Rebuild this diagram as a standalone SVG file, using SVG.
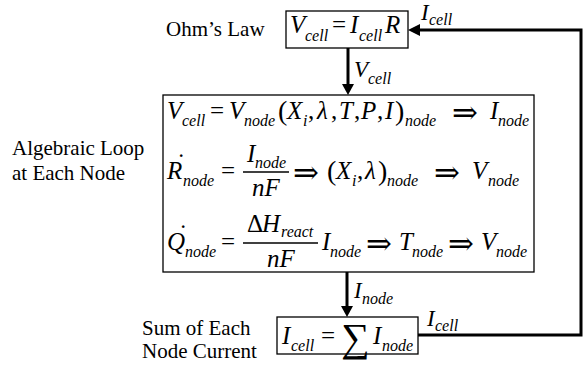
<svg xmlns="http://www.w3.org/2000/svg" width="586" height="367" viewBox="0 0 586 367">
<style>
.t{font-family:"Liberation Serif","DejaVu Serif",serif;font-size:21px;fill:#000}
.m{font-family:"Liberation Serif","DejaVu Serif",serif;font-style:italic;font-size:25px;fill:#000}
.u{font-family:"Liberation Serif","DejaVu Serif",serif;font-style:normal;font-size:25px;fill:#000}
.p{font-family:"Liberation Serif","DejaVu Serif",serif;font-style:normal;font-size:28px;fill:#000}
.s{font-family:"Liberation Serif","DejaVu Serif",serif;font-style:italic;font-size:16px;fill:#000}
.ls{font-family:"Liberation Serif","DejaVu Serif",serif;font-style:italic;font-size:23px;fill:#000}
.lss{font-family:"Liberation Serif","DejaVu Serif",serif;font-style:italic;font-size:16px;fill:#000}
.ar{font-family:"DejaVu Serif",serif;font-size:31px;fill:#000}
.box{fill:#fff;stroke:#000;stroke-width:1.3}
.wire{fill:none;stroke:#000;stroke-width:3}
.bar{stroke:#000;stroke-width:1.3}
</style>

<g id="labels">
<text class="t" x="166" y="36">Ohm’s Law</text>
<text class="t" x="12" y="155">Algebraic Loop</text>
<text class="t" x="12" y="180">at Each Node</text>
<text class="t" x="142" y="335">Sum of Each</text>
<text class="t" x="142" y="358">Node Current</text>
</g>

<g id="connectors">
<line class="wire" x1="348" y1="48" x2="348" y2="86"/>
<polygon points="342,84 354,84 348,95"/>
<line class="wire" x1="347" y1="272" x2="347" y2="308"/>
<polygon points="341,306 353,306 347,317"/>
<polyline class="wire" points="418,335 581,335 581,30 418,30"/>
<polygon points="420,24 420,36 408,30"/>
<text class="ls" x="354" y="77">V</text><text class="lss" x="368" y="84">cell</text>
<text class="ls" x="354" y="298">I</text><text class="lss" x="362" y="304">node</text>
<text class="ls" x="421" y="20">I</text><text class="lss" x="429" y="25">cell</text>
<text class="ls" x="427" y="326">I</text><text class="lss" x="435" y="331">cell</text>
</g>

<g id="ohms-law">
<rect class="box" x="286" y="11" width="122" height="37"/>
<text class="m" x="290" y="33">V</text><text class="s" x="305" y="41">cell</text>
<text class="u" x="332" y="33">=</text>
<text class="m" x="350" y="33">I</text><text class="s" x="359" y="41">cell</text>
<text class="m" x="385" y="33">R</text>
</g>

<g id="algebraic-loop">
<rect class="box" x="163" y="95" width="371" height="177"/>
<!-- line 1 -->
<text class="m" x="167" y="119">V</text><text class="s" x="182" y="126">cell</text>
<text class="u" x="210" y="119">=</text>
<text class="m" x="229" y="119">V</text><text class="s" x="244" y="126">node</text>
<text class="p" x="278" y="120">(</text>
<text class="m" x="287" y="119">X</text><text class="s" x="303" y="126">i</text>
<text class="u" x="308" y="119">,</text>
<text class="m" x="317" y="119">λ</text>
<text class="u" x="331" y="119">,</text>
<text class="m" x="339" y="119">T</text>
<text class="u" x="354" y="119">,</text>
<text class="m" x="361" y="119">P</text>
<text class="u" x="377" y="119">,</text>
<text class="m" x="385" y="119">I</text>
<text class="p" x="395" y="120">)</text>
<text class="s" x="405" y="126">node</text>
<text class="ar" x="452" y="123">⇒</text>
<text class="m" x="490" y="119">I</text><text class="s" x="498" y="126">node</text>
<!-- line 2 -->
<text class="m" x="167" y="179">R<tspan class="u" x="177" y="171">˙</tspan><tspan class="s" x="183" y="186">node</tspan></text>
<text class="u" x="221" y="179">=</text>
<line class="bar" x1="243" y1="172" x2="289" y2="172"/>
<text class="m" x="247" y="162">I</text><text class="s" x="255" y="168">node</text>
<text class="m" x="252" y="196">nF</text>
<text class="ar" x="293" y="183">⇒</text>
<text class="p" x="327" y="180">(</text>
<text class="m" x="336" y="179">X</text><text class="s" x="352" y="186">i</text>
<text class="u" x="357" y="179">,</text>
<text class="m" x="365" y="179">λ</text>
<text class="p" x="378" y="180">)</text>
<text class="s" x="387" y="186">node</text>
<text class="ar" x="434" y="183">⇒</text>
<text class="m" x="472" y="179">V</text><text class="s" x="488" y="186">node</text>
<!-- line 3 -->
<text class="m" x="167" y="250">Q<tspan class="u" x="179" y="242">˙</tspan><tspan class="s" x="185" y="257">node</tspan></text>
<text class="u" x="221" y="250">=</text>
<line class="bar" x1="243" y1="243" x2="318" y2="243"/>
<text class="u" x="247" y="232">Δ</text><text class="m" x="262" y="232">H</text><text class="s" x="281" y="237">react</text>
<text class="m" x="267" y="267">nF</text>
<text class="m" x="322" y="250">I</text><text class="s" x="330" y="257">node</text>
<text class="ar" x="366" y="254">⇒</text>
<text class="m" x="399" y="250">T</text><text class="s" x="412" y="257">node</text>
<text class="ar" x="448" y="254">⇒</text>
<text class="m" x="481" y="250">V</text><text class="s" x="496" y="257">node</text>
</g>

<g id="node-sum">
<rect class="box" x="277" y="317" width="141" height="37"/>
<text class="m" x="282" y="344">I</text><text class="s" x="291" y="351">cell</text>
<text class="u" x="321" y="344">=</text>
<text class="u" x="341" y="351" style="font-size:40px">∑</text>
<text class="m" x="373" y="344">I</text><text class="s" x="382" y="351">node</text>
</g>
</svg>
